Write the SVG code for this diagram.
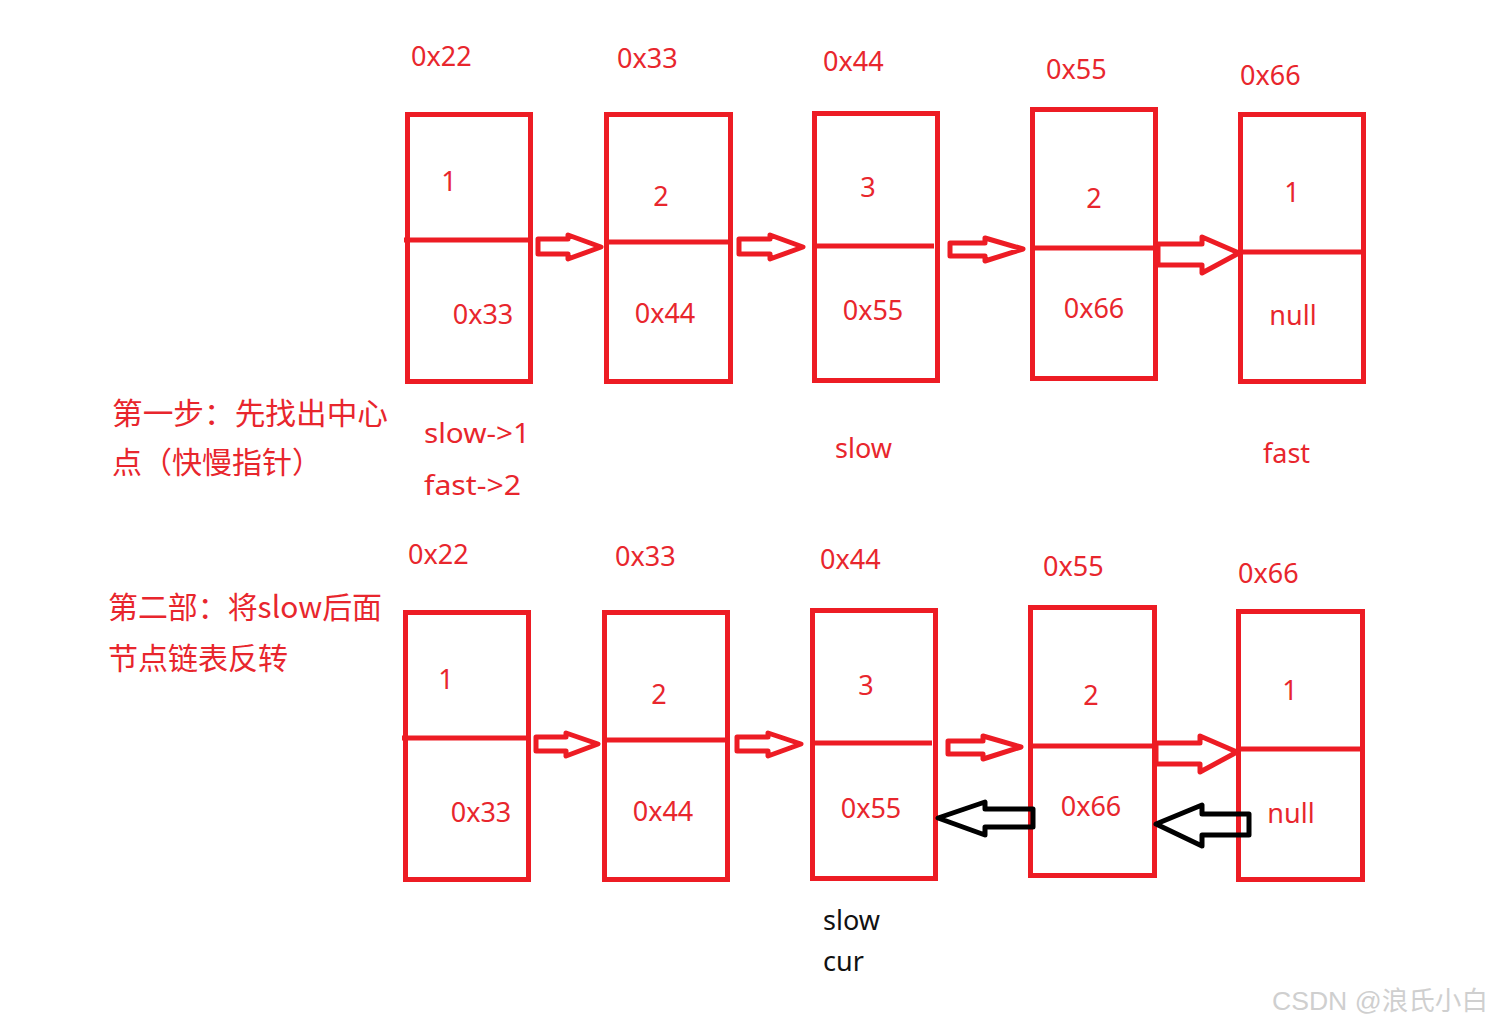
<svg xmlns="http://www.w3.org/2000/svg" width="1495" height="1026" viewBox="0 0 1495 1026">
<style>
.box{fill:none;stroke:#ed1c24;stroke-width:5}
.div{stroke:#ed1c24;stroke-width:5}
.ra{fill:none;stroke:#ed1c24;stroke-width:5;stroke-linejoin:round}
.ba{fill:none;stroke:#000;stroke-width:5;stroke-linejoin:round}
.t{font-family:"Noto Sans","Open Sans",sans-serif;font-size:27px;fill:#e8262d}
.c{text-anchor:middle}
.cn{font-family:"Noto Sans CJK SC","Noto Sans",sans-serif;font-size:30px;fill:#e8262d}
.k{font-family:"Noto Sans","Open Sans",sans-serif;font-size:27px;fill:#111}
.wm{font-family:"Liberation Sans","Noto Sans CJK SC",sans-serif;font-size:26px;fill:#cfcfcf}
</style>
<rect width="1495" height="1026" fill="#fff"/>
<g id="labels">
<text class="t" x="411" y="66">0x22</text>
<text class="t" x="617" y="68">0x33</text>
<text class="t" x="823" y="71">0x44</text>
<text class="t" x="1046" y="79">0x55</text>
<text class="t" x="1240" y="85">0x66</text>
<text class="t" x="424" y="443" textLength="106" lengthAdjust="spacingAndGlyphs">slow-&gt;1</text>
<text class="t" x="424" y="495" textLength="97" lengthAdjust="spacingAndGlyphs">fast-&gt;2</text>
<text class="t" x="835" y="458">slow</text>
<text class="t" x="1263" y="463">fast</text>
<text class="cn" x="112" y="424" textLength="276" lengthAdjust="spacingAndGlyphs">第一步：先找出中心</text>
<text class="cn" x="112" y="473">点（快慢指针）</text>
<text class="cn" x="108" y="618" textLength="274" lengthAdjust="spacingAndGlyphs">第二部：将slow后面</text>
<text class="cn" x="108" y="669">节点链表反转</text>
<text class="t" x="408" y="564">0x22</text>
<text class="t" x="615" y="566">0x33</text>
<text class="t" x="820" y="569">0x44</text>
<text class="t" x="1043" y="576">0x55</text>
<text class="t" x="1238" y="583">0x66</text>
<text class="k" x="823" y="930">slow</text>
<text class="k" x="823" y="971">cur</text>
<text class="wm" x="1272" y="1010" textLength="216" lengthAdjust="spacingAndGlyphs">CSDN @浪氏小白</text>
</g>
<g id="n1a"><rect class="box" x="407.5" y="114.5" width="123" height="267"/><line class="div" x1="404" y1="240" x2="530" y2="240"/><text class="t c" x="449" y="191">1</text><text class="t c" x="483" y="324">0x33</text></g>
<g id="n2a"><rect class="box" x="606.5" y="114.5" width="124" height="267"/><line class="div" x1="606" y1="242" x2="730" y2="242"/><text class="t c" x="661" y="206">2</text><text class="t c" x="665" y="323">0x44</text></g>
<g id="n3a"><rect class="box" x="814.5" y="113.5" width="123" height="267"/><line class="div" x1="814" y1="246" x2="934" y2="246"/><text class="t c" x="868" y="197">3</text><text class="t c" x="873" y="320">0x55</text></g>
<g id="n4a"><rect class="box" x="1032.5" y="109.5" width="123" height="269"/><line class="div" x1="1032" y1="248" x2="1155" y2="248"/><text class="t c" x="1094" y="208">2</text><text class="t c" x="1094" y="318">0x66</text></g>
<g id="n5a"><rect class="box" x="1240.5" y="114.5" width="123" height="267"/><line class="div" x1="1240" y1="252" x2="1363" y2="252"/><text class="t c" x="1292" y="202">1</text><text class="t c" x="1293" y="325">null</text></g>
<g id="n1b"><rect class="box" x="405.5" y="612.5" width="123" height="267"/><line class="div" x1="402" y1="738" x2="528" y2="738"/><text class="t c" x="446" y="689">1</text><text class="t c" x="481" y="822">0x33</text></g>
<g id="n2b"><rect class="box" x="604.5" y="612.5" width="123" height="267"/><line class="div" x1="604" y1="740" x2="727" y2="740"/><text class="t c" x="659" y="704">2</text><text class="t c" x="663" y="821">0x44</text></g>
<g id="n3b"><rect class="box" x="812.5" y="610.5" width="123" height="268"/><line class="div" x1="812" y1="743" x2="932" y2="743"/><text class="t c" x="866" y="695">3</text><text class="t c" x="871" y="818">0x55</text></g>
<g id="n4b"><rect class="box" x="1030.5" y="607.5" width="124" height="268"/><line class="div" x1="1030" y1="746" x2="1154" y2="746"/><text class="t c" x="1091" y="705">2</text><text class="t c" x="1091" y="816">0x66</text></g>
<g id="n5b"><rect class="box" x="1238.5" y="611.5" width="124" height="268"/><line class="div" x1="1238" y1="749" x2="1362" y2="749"/><text class="t c" x="1290" y="700">1</text><text class="t c" x="1291" y="823">null</text></g>
<g id="connectors">
<polygon class="ra" points="538,239 568,239 568,235 601,247 568,259 568,254 538,254"/>
<polygon class="ra" points="739,239 770,239 770,235 803,247 770,259 770,254 739,254"/>
<polygon class="ra" points="950,243 985,243 985,238 1023,249 985,261 985,256 950,256"/>
<polygon class="ra" points="1158,244 1202,244 1202,237 1239,253 1202,273 1202,265 1158,265"/>
<polygon class="ra" points="536,737 566,737 566,733 598,744 566,756 566,751 536,751"/>
<polygon class="ra" points="737,737 768,737 768,733 801,744 768,756 768,751 737,751"/>
<polygon class="ra" points="948,741 983,741 983,736 1021,747 983,759 983,754 948,754"/>
<polygon class="ra" points="1156,743 1200,743 1200,736 1237,752 1200,772 1200,764 1156,764"/>
<polygon class="ba" points="938,818 985,802 985,809 1033,809 1033,827 985,827 985,835"/>
<polygon class="ba" points="1156,824 1202,805 1202,814 1249,814 1249,835 1202,835 1202,846"/>
</g>
</svg>
